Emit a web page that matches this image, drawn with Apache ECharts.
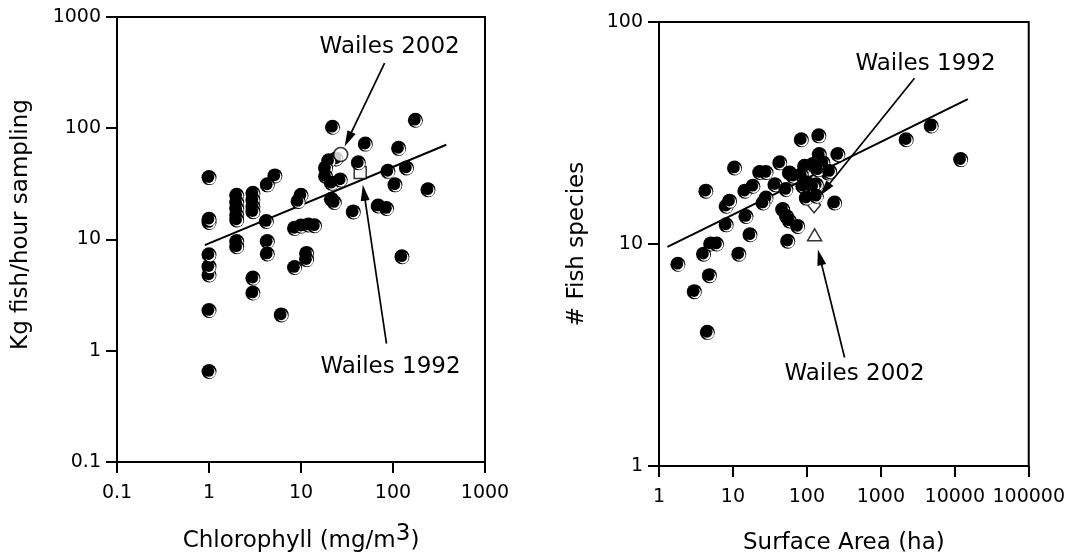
<!DOCTYPE html>
<html><head><meta charset="utf-8">
<script src="https://cdn.jsdelivr.net/npm/echarts@6/dist/echarts.min.js"></script>
<style>html,body{margin:0;padding:0;background:#fff}#c{width:1068px;height:560px}</style>
</head><body><div id="c"></div>
<script>
// ---- Left panel: chlorophyll vs kg fish / hour sampling ----
const chlorophyll = [1,1,1,1,1,1,1,1, 2,2,2,2,2,2,2, 3,3,3,3,3,3, 5.2,4.3,4.2,4.3,4.3, 6.1,
  8.5,8.5,10,12,14,10,9.3,11.5,11.5, 22,24,20,18.5,18.5,21.4,26.7,21.4,23,
  42,50,115,175,88,140,105,240,37,69,85,125];
const kgFish = [0.65,2.3,4.8,5.7,7.3,14.2,15.2,36, 25,21.5,19,16.6,15,9.6,8.6, 26,22.7,19.7,17.8,4.5,3.3, 37.3,31,14.5,9.6,7.4, 2.1,
  5.6,12.6,13.2,13.5,13.3,25,22,7.5,6.6, 102,53,51,44,37,32,34.3,23,21.5,
  49,72,66,118,41,44,31,28,17.7,20,19,7];
const chlFitX = [0.9, 380];
const chlFitY = [8.9, 71];
const wailes1992Left = [44, 40];
const wailes2002Left = [27, 58];
const chlTicks = [0.1, 1, 10, 100, 1000];
const kgTicks = [0.1, 1, 10, 100, 1000];
// annotation arrows: [fromX, fromY, toX, toY]
const arrowsLeft = [[81, 385, 29.8, 68.4], [85, 1.16, 47, 31]];
const notesLeft = [['Wailes 2002', 92, 535], ['Wailes 1992', 94, 0.71]];

// ---- Right panel: surface area vs # fish species ----
const surfaceArea = [1.8,3,4.5,4.8,4,5,6,12,17,55,
  4.3,8.1,8.1,9,10.5,15,14.5,18.6,
  23,28,43,37,52,28,25.5,47,53,58,75,
  58,65,93,84,120,147,165,193,140,203,
  84,145,262,98,134,88,120,98,134,237,
  2200,4800,12000];
const fishSpecies = [8.1,6.1,4,7.2,9,10,10,9,11,10.3,
  17.3,12.2,14.8,15.6,22,13.3,17.3,18.2,
  21,21,23.2,18.5,17.6,16.1,15.3,14.3,13.3,12.7,12,
  20.9,20.2,22.4,20.5,22.8,25.3,23.2,20.9,21.6,21.2,
  29.5,30.7,25.3,18.9,18.5,18.2,18.2,16.1,16.4,15.3,
  29.5,34,24];
const areaFitX = [1.3, 15000];
const areaFitY = [9.7, 44.9];
const wailes1992Right = [125, 15];
const wailes2002Right = [127, 11];
const areaTicks = [1, 10, 100, 1000, 10000, 100000];
const speciesTicks = [1, 10, 100];
const arrowsRight = [[2850, 55.8, 150, 16.5], [323, 3.08, 141, 9.45]];
const notesRight = [['Wailes 1992', 4020, 64.7], ['Wailes 2002', 440, 2.59]];

const FONT = 'DejaVu Sans';
function fmt(v){ return String(+Number(v).toPrecision(6)); }
function pairs(xs, ys){ return xs.map((x,i)=>[x, ys[i]]); }

function dotRender(params, api){
  const p = api.coord([api.value(0), api.value(1)]);
  return {type:'group', children:[
    {type:'circle', shape:{cx:p[0], cy:p[1], r:7.5}, style:{fill:'#000'}},
    {type:'circle', shape:{cx:p[0]+1.1, cy:p[1]+1.1, r:5.6}, style:{fill:'#fff'}},
    {type:'circle', shape:{cx:p[0]-0.3, cy:p[1]-0.3, r:5.6}, style:{fill:'#000'}}
  ]};
}
function arrowRender(params, api){
  const a = api.coord([api.value(0), api.value(1)]);
  const b = api.coord([api.value(2), api.value(3)]);
  const dx = b[0]-a[0], dy = b[1]-a[1], L = Math.hypot(dx, dy), ux = dx/L, uy = dy/L;
  const hl = 16, hw = 4.5;
  const bx = b[0]-ux*hl, by = b[1]-uy*hl;
  return {type:'group', children:[
    {type:'line', shape:{x1:a[0], y1:a[1], x2:bx+ux*2, y2:by+uy*2}, style:{stroke:'#000', lineWidth:1.7}},
    {type:'polygon', shape:{points:[[b[0], b[1]], [bx-uy*hw, by+ux*hw], [bx+uy*hw, by-ux*hw]]}, style:{fill:'#000'}}
  ]};
}

function makeAxis(ticks, extra){
  return Object.assign({
    type:'log', logBase:10, min:ticks[0], max:ticks[ticks.length-1],
    axisLine:{show:true, onZero:false, lineStyle:{color:'#000', width:2}},
    axisTick:{show:true, inside:false, length:11, lineStyle:{color:'#000', width:2}},
    minorTick:{show:false}, splitLine:{show:false},
    nameLocation:'middle'
  }, extra);
}
const tickLabel = (margin) => ({color:'#000', fontFamily:FONT, fontSize:19, formatter:fmt, margin:margin,
  showMinLabel:true, showMaxLabel:true});
const nameStyle = {color:'#000', fontFamily:FONT, fontSize:23};
const textLabel = {show:true, position:'inside', formatter:'{b}', color:'#000', fontFamily:FONT, fontSize:23};

function noteSeries(xi, notes){
  return {type:'scatter', xAxisIndex:xi, yAxisIndex:xi, data:[], z:7,
    markPoint:{silent:true, symbol:'circle', symbolSize:1, itemStyle:{color:'rgba(0,0,0,0)'}, label:textLabel,
      data:notes.map(n => ({name:n[0], coord:[n[1], n[2]]}))}};
}

const option = {
  animation:false,
  backgroundColor:'#fff',
  grid:[
    {left:117, right:583, top:17, bottom:98, show:true, borderColor:'#000', borderWidth:2, backgroundColor:'transparent'},
    {left:659, right:39, top:22, bottom:93, show:true, borderColor:'#000', borderWidth:2, backgroundColor:'transparent'}
  ],
  xAxis:[
    makeAxis(chlTicks, {gridIndex:0, name:'{a|Chlorophyll (mg/m}{s|3}{a|)}', nameGap:61,
      axisLabel:tickLabel(22),
      nameTextStyle:Object.assign({}, nameStyle, {
        rich:{a:{fontFamily:FONT, fontSize:23, color:'#000', padding:[7,0,0,0]},
              s:{fontFamily:FONT, fontSize:23, color:'#000', padding:[0,0,7,0]}}})}),
    makeAxis(areaTicks, {gridIndex:1, name:'Surface Area (ha)', nameGap:66,
      axisLabel:tickLabel(22), nameTextStyle:nameStyle})
  ],
  yAxis:[
    makeAxis(kgTicks, {gridIndex:0, name:'Kg fish/hour sampling', nameGap:84,
      axisLabel:tickLabel(16), nameTextStyle:Object.assign({}, nameStyle, {padding:[0,0,0,30]})}),
    makeAxis(speciesTicks, {gridIndex:1, name:'# Fish species', nameGap:70,
      axisLabel:tickLabel(16), nameTextStyle:nameStyle})
  ],
  series:[
    {type:'line', xAxisIndex:0, yAxisIndex:0, data:pairs(chlFitX, chlFitY), symbol:'none', silent:true,
      lineStyle:{color:'#000', width:2}, z:2},
    {type:'scatter', xAxisIndex:0, yAxisIndex:0, data:[wailes1992Left], symbol:'rect', symbolSize:12,
      itemStyle:{color:'#fff', borderColor:'#000', borderWidth:1.5}, z:3},
    {type:'custom', xAxisIndex:0, yAxisIndex:0, data:pairs(chlorophyll, kgFish), renderItem:dotRender, z:4,
      encode:{x:0, y:1}},
    {type:'scatter', xAxisIndex:0, yAxisIndex:0, data:[wailes2002Left], symbol:'circle', symbolSize:14,
      itemStyle:{color:'#fff', borderColor:'#000', borderWidth:1.5}, z:5},
    {type:'custom', xAxisIndex:0, yAxisIndex:0, data:arrowsLeft, renderItem:arrowRender, z:6, silent:true,
      encode:{x:[0,2], y:[1,3]}},
    noteSeries(0, notesLeft),

    {type:'line', xAxisIndex:1, yAxisIndex:1, data:pairs(areaFitX, areaFitY), symbol:'none', silent:true,
      lineStyle:{color:'#000', width:2}, z:2},
    {type:'scatter', xAxisIndex:1, yAxisIndex:1, data:[wailes1992Right], symbol:'diamond', symbolSize:[13,16],
      itemStyle:{color:'#fff', borderColor:'#000', borderWidth:1.5}, z:3},
    {type:'custom', xAxisIndex:1, yAxisIndex:1, data:pairs(surfaceArea, fishSpecies), renderItem:dotRender, z:4,
      encode:{x:0, y:1}},
    {type:'scatter', xAxisIndex:1, yAxisIndex:1, data:[wailes2002Right], symbol:'triangle', symbolSize:[14,12],
      itemStyle:{color:'#fff', borderColor:'#000', borderWidth:1.5}, z:5},
    {type:'custom', xAxisIndex:1, yAxisIndex:1, data:arrowsRight, renderItem:arrowRender, z:6, silent:true,
      encode:{x:[0,2], y:[1,3]}},
    noteSeries(1, notesRight)
  ]
};
const chart = echarts.init(document.getElementById('c'), null, {renderer:'canvas'});
chart.setOption(option);
</script>
</body></html>
